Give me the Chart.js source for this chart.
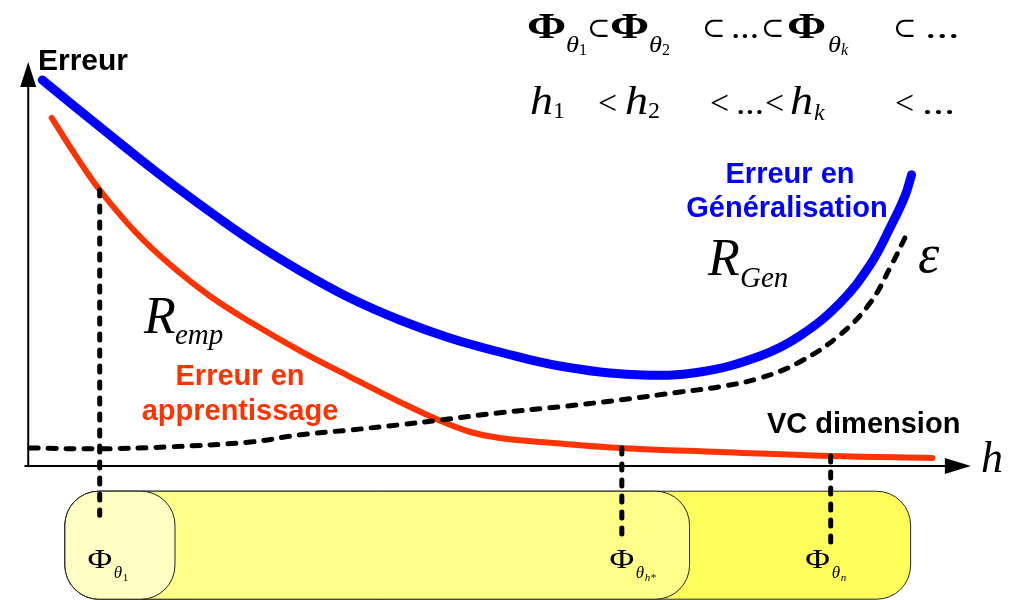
<!DOCTYPE html>
<html>
<head>
<meta charset="utf-8">
<script src="https://cdn.jsdelivr.net/npm/chart.js@4.4.0/dist/chart.umd.min.js"></script>
<style>
  html, body { margin: 0; padding: 0; background: #ffffff; }
  #wrap { width: 1016px; height: 600px; position: relative; }
</style>
</head>
<body>
<div id="wrap"><canvas id="c"></canvas></div>
<script>
// Generalisation error R_Gen as a function of the VC dimension h
const genH   = [0.15, 0.76, 1.40, 1.83, 2.36, 2.89, 3.42, 3.95, 4.48, 5.01, 5.65, 6.47, 7.14, 7.78, 8.20, 8.63, 8.95, 9.16, 9.32, 9.39];
const genErr = [9.65, 8.48, 7.28, 6.53, 5.65, 4.88, 4.20, 3.65, 3.20, 2.85, 2.50, 2.28, 2.35, 2.75, 3.25, 4.08, 5.03, 5.95, 6.75, 7.28];

// Empirical (training) error R_emp
const empH   = [0.25, 0.50, 0.76, 1.14, 1.51, 1.93, 2.36, 2.89, 3.42, 3.95, 4.38, 4.70, 5.01, 5.55, 6.29, 7.35, 8.52, 9.61];
const empErr = [8.70, 7.78, 6.90, 5.85, 5.03, 4.25, 3.60, 2.88, 2.23, 1.60, 1.13, 0.85, 0.70, 0.58, 0.45, 0.35, 0.25, 0.20];

// Confidence term epsilon
const epsH   = [0.02, 0.76, 1.51, 2.36, 2.89, 3.42, 3.95, 4.38, 5.01, 5.65, 6.29, 6.93, 7.35, 7.78, 8.20, 8.63, 8.95, 9.16, 9.35];
const epsVal = [0.45, 0.43, 0.48, 0.60, 0.78, 0.90, 1.03, 1.15, 1.33, 1.48, 1.65, 1.85, 1.98, 2.20, 2.60, 3.28, 4.08, 4.95, 5.85];

// Nested model classes Phi_theta: drop lines and the extent of each class
const classH      = [0.76, 6.31, 8.53];
const classTopErr = [6.90, 0.45, 0.25];
const classLowErr = [-1.23, -1.80, -2.03];
const classSub    = ['1', 'h*', 'n'];
const classRight  = [9.38, 7.03, 1.56];
const classLeft   = 0.39;
const classTop    = -0.63;
const classBottom = -3.33;
const classFill   = ['#ffff5c', '#ffff8a', '#ffffc4'];

// Axis extents
const axisStartH = -0.04, axisEndH = 10.02, axisEndErr = 10.1;

const SERIF = '"Liberation Serif","Times New Roman",serif';
const SANS  = '"Liberation Sans",Arial,sans-serif';

function pts(xs, ys) { return xs.map((v, i) => ({ x: v, y: ys[i] })); }

function txt(ctx, s, x, y, font, color, sx, align) {
  ctx.save();
  ctx.font = font;
  ctx.fillStyle = color;
  ctx.textAlign = align || 'left';
  ctx.textBaseline = 'alphabetic';
  ctx.translate(x, y);
  ctx.scale(sx || 1, 1);
  ctx.fillText(s, 0, 0);
  ctx.restore();
}

function roundRect(ctx, x0, y0, x1, y1, r) {
  ctx.beginPath();
  ctx.moveTo(x0 + r, y0);
  ctx.lineTo(x1 - r, y0);
  ctx.arcTo(x1, y0, x1, y0 + r, r);
  ctx.lineTo(x1, y1 - r);
  ctx.arcTo(x1, y1, x1 - r, y1, r);
  ctx.lineTo(x0 + r, y1);
  ctx.arcTo(x0, y1, x0, y1 - r, r);
  ctx.lineTo(x0, y0 + r);
  ctx.arcTo(x0, y0, x0 + r, y0, r);
  ctx.closePath();
}

const backdrop = {
  id: 'backdrop',
  beforeDatasetsDraw(chart) {
    const { ctx, scales: { x, y } } = chart;
    // nested classes, outermost first
    const top = y.getPixelForValue(classTop);
    const bot = y.getPixelForValue(classBottom);
    const left = x.getPixelForValue(classLeft);
    classRight.forEach((r, i) => {
      roundRect(ctx, left, top, x.getPixelForValue(r), bot, 34);
      ctx.fillStyle = classFill[i];
      ctx.fill();
      ctx.lineWidth = 1;
      ctx.strokeStyle = '#222';
      ctx.stroke();
    });

    // axes with arrow heads
    const ox = x.getPixelForValue(0), oy = y.getPixelForValue(0);
    const xs = x.getPixelForValue(axisStartH), xe = x.getPixelForValue(axisEndH);
    const ye = y.getPixelForValue(axisEndErr);
    ctx.save();
    ctx.strokeStyle = '#000';
    ctx.fillStyle = '#000';
    ctx.lineWidth = 2;
    ctx.beginPath();
    ctx.moveTo(xs, oy); ctx.lineTo(xe - 24, oy);
    ctx.moveTo(ox, oy); ctx.lineTo(ox, ye + 22);
    ctx.stroke();
    ctx.beginPath();
    ctx.moveTo(xe, oy); ctx.lineTo(xe - 26, oy - 8); ctx.lineTo(xe - 26, oy + 8); ctx.closePath();
    ctx.fill();
    ctx.beginPath();
    ctx.moveTo(ox, ye); ctx.lineTo(ox - 8, ye + 25); ctx.lineTo(ox + 8, ye + 25); ctx.closePath();
    ctx.fill();
    ctx.restore();
  },
  afterDatasetsDraw(chart) {
    const { ctx, scales: { x } } = chart;

    // axis titles
    txt(ctx, 'Erreur', 38, 70, `bold 30px ${SANS}`, '#000');
    txt(ctx, 'h', 981, 472, `italic 44px ${SERIF}`, '#000');

    // curve captions
    txt(ctx, 'Erreur en', 790, 183, `bold 29px ${SANS}`, '#0000ff', 1, 'center');
    txt(ctx, 'Généralisation', 787, 217, `bold 29px ${SANS}`, '#0000ff', 1, 'center');
    txt(ctx, 'R', 708, 275, `italic 52px ${SERIF}`, '#000');
    txt(ctx, 'Gen', 740, 287, `italic 29px ${SERIF}`, '#000');
    txt(ctx, 'ε', 918, 272, `italic 54px ${SERIF}`, '#000');

    txt(ctx, 'R', 144, 333, `italic 52px ${SERIF}`, '#000');
    txt(ctx, 'emp', 175, 344, `italic 29px ${SERIF}`, '#000');
    txt(ctx, 'Erreur en', 240, 385, `bold 29px ${SANS}`, '#ff3300', 1, 'center');
    txt(ctx, 'apprentissage', 240, 420, `bold 29px ${SANS}`, '#ff3300', 1, 'center');

    txt(ctx, 'VC dimension', 767, 433, `bold 29px ${SANS}`, '#000');

    // nested sequence of classes
    const PHI = `bold 35px ${SERIF}`, TH = `italic 24px ${SERIF}`, SUB = `16px ${SERIF}`;
    const SUBI = `italic 16px ${SERIF}`, OP = `34px ${SERIF}`, SUBSET = '28px "DejaVu Serif",serif';
    txt(ctx, 'Φ', 527, 38, PHI, '#000', 1.35);
    txt(ctx, 'θ', 566, 52, TH, '#000', 1.1);
    txt(ctx, '1', 579, 55, SUB, '#000');
    txt(ctx, '⊂', 587, 37, SUBSET, '#000');
    txt(ctx, 'Φ', 610, 38, PHI, '#000', 1.35);
    txt(ctx, 'θ', 649, 52, TH, '#000', 1.1);
    txt(ctx, '2', 662, 55, SUB, '#000');
    txt(ctx, '⊂', 702, 37, SUBSET, '#000');
    txt(ctx, '...', 731, 38, OP, '#000', 1.1);
    txt(ctx, '⊂', 761, 37, SUBSET, '#000');
    txt(ctx, 'Φ', 787, 38, PHI, '#000', 1.35);
    txt(ctx, 'θ', 828, 52, TH, '#000', 1.1);
    txt(ctx, 'k', 841, 55, SUBI, '#000');
    txt(ctx, '⊂', 893, 37, SUBSET, '#000');
    txt(ctx, '...', 925, 38, OP, '#000', 1.35);

    const HI = `italic 40px ${SERIF}`, HS = `24px ${SERIF}`, HSI = `italic 24px ${SERIF}`;
    txt(ctx, 'h', 530, 114, HI, '#000', 1.15);
    txt(ctx, '1', 553, 118, HS, '#000');
    txt(ctx, '<', 598, 114, OP, '#000');
    txt(ctx, 'h', 625, 114, HI, '#000', 1.15);
    txt(ctx, '2', 648, 118, HS, '#000');
    txt(ctx, '<', 710, 114, OP, '#000');
    txt(ctx, '...', 736, 114, OP, '#000', 1.1);
    txt(ctx, '<', 765, 114, OP, '#000');
    txt(ctx, 'h', 790, 114, HI, '#000', 1.15);
    txt(ctx, 'k', 814, 120, HSI, '#000');
    txt(ctx, '<', 895, 114, OP, '#000');
    txt(ctx, '...', 922, 114, OP, '#000', 1.3);

    // class labels in the boxes
    const offs = [0, 0, -13];
    classH.forEach((h, i) => {
      const px = x.getPixelForValue(h) + offs[i];
      txt(ctx, 'Φ', px, 568, `27px ${SERIF}`, '#000', 1.25, 'center');
      txt(ctx, 'θ', px + 14, 578, `italic 17px ${SERIF}`, '#000');
      txt(ctx, classSub[i], px + 23, 581, i === 0 ? `11px ${SERIF}` : `italic 11px ${SERIF}`, '#000');
    });
  }
};

const drop = classH.map((h, i) => ({
  data: [{ x: h, y: classTopErr[i] }, { x: h, y: classLowErr[i] }],
  borderColor: '#000',
  borderWidth: 5,
  borderDash: [6, 10],
  borderCapStyle: 'round',
  pointRadius: 0,
  tension: 0
}));

new Chart(document.getElementById('c'), {
  type: 'line',
  data: {
    datasets: [
      ...drop,
      {
        label: 'ε',
        data: pts(epsH, epsVal),
        borderColor: '#000',
        borderWidth: 5,
        borderDash: [8, 10],
        borderCapStyle: 'round',
        pointRadius: 0,
        tension: 0.4
      },
      {
        label: 'R_emp',
        data: pts(empH, empErr),
        borderColor: '#ff3300',
        borderWidth: 6,
        borderCapStyle: 'round',
        pointRadius: 0,
        tension: 0.4
      },
      {
        label: 'R_Gen',
        data: pts(genH, genErr),
        borderColor: '#0000ff',
        borderWidth: 9,
        borderCapStyle: 'round',
        pointRadius: 0,
        tension: 0.4
      }
    ]
  },
  options: {
    responsive: true,
    maintainAspectRatio: false,
    animation: false,
    layout: { padding: 0 },
    plugins: { legend: { display: false }, tooltip: { enabled: false } },
    scales: {
      x: { type: 'linear', min: -0.3, max: 10.5, display: false },
      y: { type: 'linear', min: -3.35, max: 11.65, display: false }
    }
  },
  plugins: [backdrop]
});
</script>
</body>
</html>
